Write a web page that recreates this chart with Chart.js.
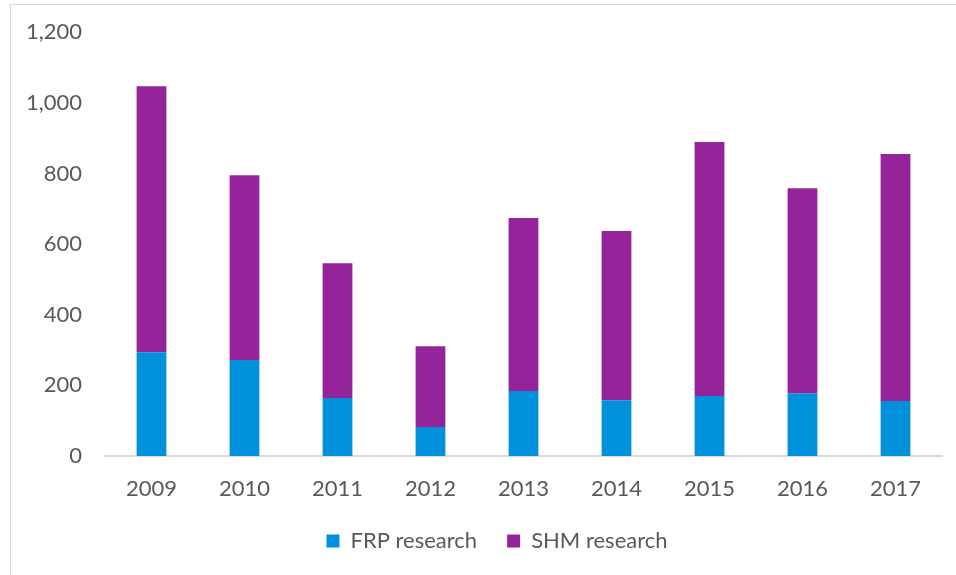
<!DOCTYPE html>
<html>
<head>
<meta charset="utf-8">
<script src="https://cdn.jsdelivr.net/npm/chart.js@4.4.1/dist/chart.umd.min.js"></script>
<style>
  html, body { margin: 0; padding: 0; background: #fff; }
  #wrap { position: relative; width: 956px; height: 575px; overflow: hidden; }
  #frame { position: absolute; left: 10px; top: 4px; width: 960px; height: 590px; border: 1px solid #d9d9d9; box-sizing: border-box; }
  canvas { position: absolute; left: 0; top: 0; }
</style>
</head>
<body>
<div id="wrap">
  <div id="frame"></div>
  <canvas id="bar-chart" width="956" height="575"></canvas>
</div>
<script>
let years = ['2009', '2010', '2011', '2012', '2013', '2014', '2015', '2016', '2017'];
let frp = [294, 272, 164, 82, 184, 158, 170, 178, 156];
let shm = [753, 523, 382, 229, 490, 479, 719, 580, 699];

let textColor = '#595959';
let font = { family: 'Lato, "Open Sans", sans-serif', size: 22 };

// legend sits a bit right of the canvas centre in the original
let legendShift = {
  id: 'legendShift',
  afterLayout: (chart) => {
    chart.legend.left += 26;
    chart.legend.right += 26;
  }
};

new Chart(document.getElementById('bar-chart'), {
  type: 'bar',
  data: {
    labels: years,
    datasets: [{
        label: 'FRP research',
        data: frp,
        backgroundColor: '#0091da',
        barPercentage: 0.32,
        categoryPercentage: 1
      }, {
        label: 'SHM research',
        data: shm,
        backgroundColor: '#952399',
        barPercentage: 0.32,
        categoryPercentage: 1
      }
    ]
  },
  plugins: [legendShift],
  options: {
    responsive: false,
    animation: false,
    events: [],
    layout: { padding: { top: 20, right: 14, left: 0, bottom: 13 } },
    scales: {
      x: {
        stacked: true,
        grid: { display: false, drawTicks: false },
        border: { color: '#d9d9d9', width: 2 },
        ticks: { color: textColor, font: font, padding: 20, maxRotation: 0 },
        afterFit: (s) => { s.height = 44; }
      },
      y: {
        stacked: true,
        min: 0,
        max: 1200,
        grid: { display: false, drawTicks: true, tickLength: 4 },
        border: { display: false },
        ticks: {
          stepSize: 200,
          color: textColor,
          font: font,
          padding: 19,
          callback: (v) => v.toLocaleString('en-US')
        },
        afterFit: (s) => { s.width = 105; }
      }
    },
    plugins: {
      tooltip: { enabled: false },
      legend: {
        position: 'bottom',
        labels: {
          color: textColor,
          font: font,
          boxWidth: 13,
          boxHeight: 13,
          padding: 30
        }
      }
    }
  }
});
</script>
</body>
</html>
